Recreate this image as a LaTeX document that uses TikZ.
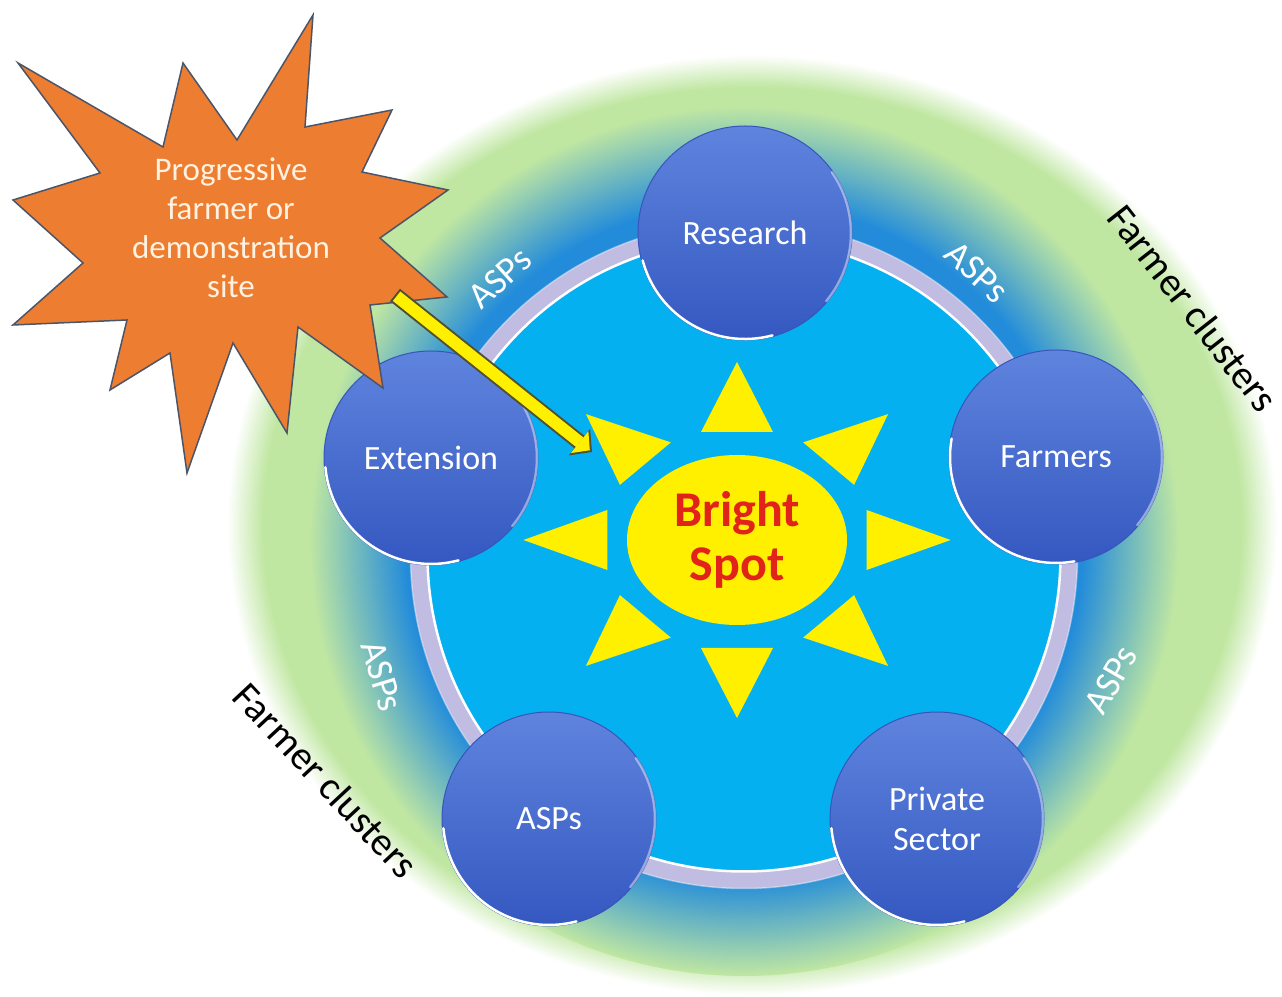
\documentclass[tikz,border=0pt]{standalone}
\usepackage{fontspec}
\setmainfont{Carlito}
\usepackage{xcolor}
\definecolor{Leaf}{RGB}{192,231,162}
\definecolor{Ocean}{RGB}{35,140,218}
\definecolor{Sky}{RGB}{5,176,240}
\definecolor{RingGrey}{RGB}{192,188,226}
\definecolor{HubTop}{RGB}{95,132,222}
\definecolor{HubBottom}{RGB}{52,88,192}
\definecolor{HubEdge}{RGB}{55,85,185}
\definecolor{Sunny}{RGB}{255,240,0}
\definecolor{SpotRed}{RGB}{225,35,25}
\definecolor{BurstOrange}{RGB}{237,125,49}
\definecolor{BurstEdge}{RGB}{75,85,105}
\definecolor{ArrowEdge}{RGB}{80,80,50}
\definecolor{Cream}{RGB}{255,242,225}
\usepackage{tikz}
\usetikzlibrary{shapes.geometric}
\usetikzlibrary{arrows.meta}
\pgfdeclareradialshading{GreenHalo}{\pgfpointorigin}{color(0bp)=(Leaf);
    color(23.3bp)=(Leaf);color(25bp)=(white);color(50bp)=(white)}
\pgfdeclareradialshading{BlueGlow}{\pgfpointorigin}{color(0bp)=(Ocean);
    color(19.5bp)=(Ocean);color(25bp)=(Leaf);color(50bp)=(Leaf)}
\tikzstyle{Hub}=[circle,minimum size=214pt,inner sep=0pt,top color=HubTop,
bottom color=HubBottom,draw=HubEdge,line width=1pt,text=white,
font=\fontsize{34}{40}\selectfont,align=center]
\tikzstyle{Rim}=[draw=white,line width=2.5pt,line cap=round]
\tikzstyle{Ring}=[draw=RingGrey,line width=17pt]
\tikzstyle{Sun}=[ellipse,minimum width=220pt,minimum height=170pt,inner sep=0pt,
fill=Sunny,text=SpotRed,font=\bfseries\fontsize{50}{54}\selectfont,align=center]
\tikzstyle{Ray}=[fill=Sunny]
\tikzstyle{RingLabel}=[text=white,font=\fontsize{37}{40}\selectfont]
\tikzstyle{ClusterLabel}=[text=black,font=\fontsize{40}{44}\selectfont]
\tikzstyle{Burst}=[fill=BurstOrange,draw=BurstEdge,line width=1.5pt,line join=miter]
\tikzstyle{BurstText}=[text=Cream,font=\fontsize{33}{39}\selectfont,align=center]
\tikzstyle{ArrowOutline}=[draw=ArrowEdge,line width=16pt,
-{Triangle[length=16pt,width=34pt,line width=0pt]}]
\tikzstyle{ArrowBody}=[draw=Sunny,line width=12pt,shorten >=2.8pt,shorten <=2pt,
-{Triangle[length=13pt,width=28pt,line width=0pt]}]

\begin{document}
\begin{tikzpicture}[x=1pt,y=1pt]
        \fill[white](0,0)rectangle(1282,996);
        \useasboundingbox(0,0)rectangle(1282,996);
        \shade[shading=GreenHalo](752,471)ellipse[x radius=525,y radius=470];
        \shade[shading=BlueGlow](744,455)circle(435);
        \fill[Sky](744,441)circle(325);
        \draw[Ring](744,441)circle(325);
        \draw[white,line width=2.5pt](744,441)circle(316.5);
        \draw[white,opacity=.4,line width=1.5pt](744,441)circle(333.5);
        \fill[Ray,shift={(737,456)},xscale=1.2,rotate=0](108,-30)--(178,0)--(108,30)--cycle;
        \fill[Ray,shift={(737,456)},xscale=1.2,rotate=45](108,-30)--(178,0)--(108,30)--cycle;
        \fill[Ray,shift={(737,456)},xscale=1.2,rotate=90](108,-30)--(178,0)--(108,30)--cycle;
        \fill[Ray,shift={(737,456)},xscale=1.2,rotate=135](108,-30)--(178,0)--(108,30)--cycle;
        \fill[Ray,shift={(737,456)},xscale=1.2,rotate=180](108,-30)--(178,0)--(108,30)--cycle;
        \fill[Ray,shift={(737,456)},xscale=1.2,rotate=225](108,-30)--(178,0)--(108,30)--cycle;
        \fill[Ray,shift={(737,456)},xscale=1.2,rotate=270](108,-30)--(178,0)--(108,30)--cycle;
        \fill[Ray,shift={(737,456)},xscale=1.2,rotate=315](108,-30)--(178,0)--(108,30)--cycle;
        \node[Sun](spot)at(737,456){Bright\\Spot};
        \node[Hub](research)at(745,763){Research};
        \node[Hub](farmers)at(1056,539){Farmers};
        \node[Hub](private)at(937,177){Private\\Sector};
        \node[Hub](asps)at(549,177){ASPs};
        \node[Hub](extension)at(431,538){Extension};
        \draw[Rim](research.center)++(195:106)arc(195:285:106);
        \draw[Rim](farmers.center)++(170:106)arc(170:280:106);
        \draw[Rim](private.center)++(185:106)arc(185:285:106);
        \draw[Rim](asps.center)++(185:106)arc(185:285:106);
        \draw[Rim](extension.center)++(185:106)arc(185:285:106);
        \draw[Rim,opacity=.45](research.center)++(-40:106)arc(-40:35:106);
        \draw[Rim,opacity=.45](farmers.center)++(-40:106)arc(-40:35:106);
        \draw[Rim,opacity=.45](private.center)++(-40:106)arc(-40:35:106);
        \draw[Rim,opacity=.45](asps.center)++(-40:106)arc(-40:35:106);
        \draw[Rim,opacity=.45](extension.center)++(-40:106)arc(-40:35:106);
        \node[RingLabel,rotate=42](ring1)at(500,718){ASPs};
        \node[RingLabel,rotate=-43](ring2)at(977,724){ASPs};
        \node[RingLabel,rotate=60](ring3)at(1111,316){ASPs};
        \node[RingLabel,rotate=-73](ring4)at(382,320){ASPs};
        \node[ClusterLabel,rotate=-52](clusters1)at(1193,688){Farmer clusters};
        \node[ClusterLabel,rotate=-47](clusters2)at(326,216){Farmer clusters};
        \draw[Burst](18,933)--(163,849)--(183,933)--(237,856)--(313,981)--(305,869)
            --(392,886)--(362,824)--(448,806)--(380,758)--(447,699)--(370,691)
            --(383,608)--(298,669)--(287,563)--(233,653)--(187,523)--(170,643)
            --(110,606)--(127,676)--(13,671)--(83,733)--(13,796)--(100,823)--cycle;
        \node[BurstText](site)at(231,768){Progressive\\farmer or\\demonstration\\site};
        \coordinate(arrowstart)at(395,701);
        \coordinate(arrowtip)at(592,544);
        \draw[ArrowOutline](arrowstart)--(arrowtip);
        \draw[ArrowBody](arrowstart)--(arrowtip);
    \end{tikzpicture}
\end{document}
